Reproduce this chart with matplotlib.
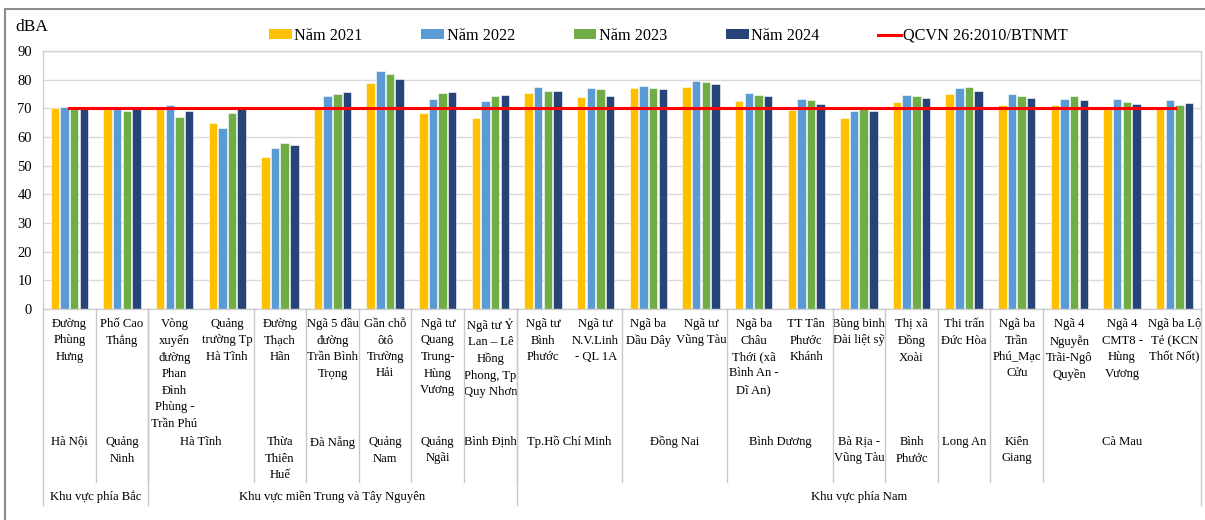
import matplotlib
matplotlib.use("Agg")
import matplotlib.pyplot as plt
from matplotlib.lines import Line2D
from matplotlib.patches import Patch, Rectangle
from matplotlib.transforms import blended_transform_factory

plt.rcParams['font.family'] = ['Liberation Serif', 'DejaVu Serif']

# Điểm quan trắc
stations = [
    "Đường\nPhùng\nHưng", "Phố Cao\nThắng",
    "Vòng\nxuyến\nđường\nPhan\nĐình\nPhùng -\nTrần Phú", "Quảng\ntrường Tp\nHà Tĩnh",
    "Đường\nThạch\nHãn", "Ngã 5 đầu\nđường\nTrần Bình\nTrọng",
    "Gần chỗ\nôtô\nTrường\nHải", "Ngã tư\nQuang\nTrung-\nHùng\nVương",
    "Ngã tư Ỷ\nLan – Lê\nHồng\nPhong, Tp\nQuy Nhơn",
    "Ngã tư\nBình\nPhước", "Ngã tư\nN.V.Linh\n- QL 1A",
    "Ngã ba\nDầu Dây", "Ngã tư\nVũng Tàu",
    "Ngã ba\nChâu\nThới (xã\nBình An -\nDĩ An)", "TT Tân\nPhước\nKhánh",
    "Bùng binh\nĐài liệt sỹ", "Thị xã\nĐồng\nXoài", "Thi trấn\nĐức Hòa",
    "Ngã ba\nTrần\nPhú_Mạc\nCửu", "Ngã 4\nNguyễn\nTrãi-Ngô\nQuyền",
    "Ngã 4\nCMT8 -\nHùng\nVương", "Ngã ba Lộ\nTẻ (KCN\nThốt Nốt)",
]
# (tỉnh, số điểm)
provinces = [
    ("Hà Nội", 1), ("Quảng\nNinh", 1), ("Hà Tĩnh", 2), ("Thừa\nThiên\nHuế", 1),
    ("Đà Nẵng", 1), ("Quảng\nNam", 1), ("Quảng\nNgãi", 1), ("Bình Định", 1),
    ("Tp.Hồ Chí Minh", 2), ("Đồng Nai", 2), ("Bình Dương", 2),
    ("Bà Rịa -\nVũng Tàu", 1), ("Bình\nPhước", 1), ("Long An", 1),
    ("Kiên\nGiang", 1), ("Cà Mau", 3),
]
regions = [
    ("Khu vực phía Bắc", 2),
    ("Khu vực miền Trung và Tây Nguyên", 7),
    ("Khu vực phía Nam", 13),
]

y2021 = [70.1, 70.0, 70.0, 65.0, 53.1, 69.8, 78.9, 68.2, 66.8, 75.2, 74.0,
         77.1, 77.4, 72.5, 69.5, 66.8, 72.2, 74.9, 71.2, 71.2, 69.8, 69.8]
y2022 = [70.6, 70.0, 71.0, 63.0, 56.2, 74.2, 83.0, 73.2, 72.5, 77.6, 77.1,
         77.9, 79.4, 75.2, 73.2, 69.0, 74.5, 77.2, 75.1, 73.3, 73.3, 72.8]
y2023 = [70.5, 69.0, 67.0, 68.2, 57.9, 75.0, 82.0, 75.2, 74.2, 76.2, 76.7,
         77.1, 79.2, 74.7, 73.0, 69.8, 74.3, 77.5, 74.2, 74.2, 72.1, 71.2]
y2024 = [69.8, 69.8, 69.0, 70.0, 57.3, 75.8, 80.2, 75.6, 74.7, 76.2, 74.3,
         76.7, 78.5, 74.2, 71.4, 69.0, 73.6, 76.0, 73.6, 72.8, 71.6, 71.8]
qcvn = [70] * len(stations)

series = [("Năm 2021", y2021, '#FFC000'), ("Năm 2022", y2022, '#5B9BD5'),
          ("Năm 2023", y2023, '#70AD47'), ("Năm 2024", y2024, '#264478')]

W, H = 1205, 520
fig = plt.figure(figsize=(W / 100, H / 100), dpi=100)
ax = fig.add_axes([43 / W, (H - 309) / H, (1201 - 43) / W, (309 - 51) / H])

x = list(range(len(stations)))
step = 0.183
for k, (name, vals, color) in enumerate(series):
    ax.bar([i + (k - 1.5) * step for i in x], vals, width=0.16, color=color,
           edgecolor='white', linewidth=0.4, zorder=2)
ax.plot(x, qcvn, color='#FF0000', lw=2.2, zorder=3)

ax.set_xlim(-0.5, len(stations) - 0.5)
ax.set_ylim(0, 90)
ax.set_yticks(range(0, 91, 10))
ax.tick_params(axis='y', length=0, labelsize=10.5, pad=8)
ax.set_xticks([])
ax.grid(axis='y', color='#d9d9d9', lw=1, zorder=0)
for s in ax.spines.values():
    s.set_color('#d0d0d0')
    s.set_linewidth(1)
fig.text(15 / W, 1 - 27 / H, "dBA", fontsize=12.5, ha='left', va='center')

# nhãn trục phân cấp
tr = blended_transform_factory(ax.transData, fig.transFigure)
def fy(px):
    return 1 - px / H

fs = 9.1
line_kw = dict(transform=tr, color='#c8c8c8', lw=1, clip_on=False)
for i, name in enumerate(stations):
    ax.text(i, fy(318), name, transform=tr, ha='center', va='top', fontsize=fs,
            linespacing=1.5, multialignment='center')

pos = 0
for name, n in provinces:
    ax.text(pos + (n - 1) / 2, fy(436), name, transform=tr, ha='center', va='top',
            fontsize=fs, linespacing=1.5, multialignment='center')
    pos += n
    if pos < len(stations):
        fig.add_artist(Line2D([pos - 0.5, pos - 0.5], [fy(309), fy(482)], **line_kw))

pos = 0
for name, n in regions:
    ax.text(pos + (n - 1) / 2, fy(497), name, transform=tr, ha='center', va='center', fontsize=fs)
    pos += n
    fig.add_artist(Line2D([pos - 0.5, pos - 0.5], [fy(309), fy(505)], **line_kw))
fig.add_artist(Line2D([-0.5, -0.5], [fy(309), fy(505)], **line_kw))

# khung ngoài
fig.add_artist(Rectangle((5 / W, -0.1), 1.2, 1 - 9 / H + 0.1, transform=fig.transFigure,
                         fill=False, edgecolor='#8c8c8c', lw=1.5))

handles = [Patch(facecolor=c, edgecolor='none') for _, _, c in series]
handles.append(Line2D([], [], color='#FF0000', lw=2.2))
labels = [n for n, _, _ in series] + ["QCVN 26:2010/BTNMT"]
fig.legend(handles, labels, loc='center left', bbox_to_anchor=(269 / W, fy(36)),
           ncol=5, frameon=False, fontsize=11.7, handlelength=1.4, handleheight=0.55,
           handletextpad=0.15, columnspacing=3.62, borderaxespad=0, borderpad=0)

fig.savefig('out.png', dpi=100)
